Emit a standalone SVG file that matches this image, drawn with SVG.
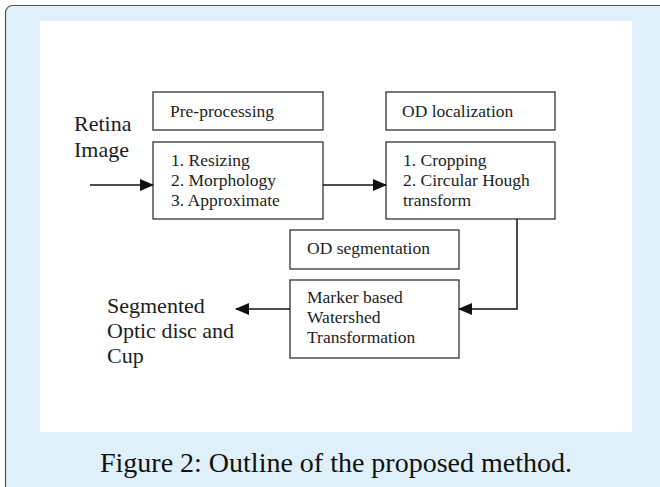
<svg xmlns="http://www.w3.org/2000/svg" width="660" height="487" viewBox="0 0 660 487">
<defs>
<style>
.box{fill:#fff;stroke:#333;stroke-width:1.3}
.t{font-family:"Liberation Serif","Times New Roman",serif;font-size:17.5px;fill:#1e1e1e}
.big{font-family:"Liberation Serif","Times New Roman",serif;font-size:22px;fill:#1e1e1e}
.cap{font-family:"Liberation Serif","Times New Roman",serif;font-size:28px;fill:#111}
.ln{fill:none;stroke:#111;stroke-width:1.5}
</style>
<marker id="ah" markerWidth="14" markerHeight="12" refX="13" refY="6" orient="auto" markerUnits="userSpaceOnUse">
<path d="M0,0 L14,6 L0,12 Z" fill="#111"/>
</marker>
</defs>
<rect x="5.5" y="5.5" width="720" height="520" rx="7" fill="#dff0fa" stroke="#555" stroke-width="1.2"/>
<rect x="40" y="21" width="592" height="411" fill="#fff"/>
<g id="labels-free">
<text class="big" x="74" y="131">Retina</text>
<text class="big" x="74" y="157">Image</text>
<text class="big" x="107" y="313">Segmented</text>
<text class="big" x="107" y="338">Optic disc and</text>
<text class="big" x="107" y="363">Cup</text>
</g>
<g id="preproc-title">
<rect class="box" x="153" y="92" width="170" height="38"/>
<text class="t" x="170" y="117">Pre-processing</text>
</g>
<g id="preproc-steps">
<rect class="box" x="153" y="142" width="170" height="77"/>
<text class="t" x="171" y="166">1. Resizing</text>
<text class="t" x="171" y="186">2. Morphology</text>
<text class="t" x="171" y="206">3. Approximate</text>
</g>
<g id="odloc-title">
<rect class="box" x="386" y="92" width="169" height="38"/>
<text class="t" x="402" y="117">OD localization</text>
</g>
<g id="odloc-steps">
<rect class="box" x="386" y="142" width="169" height="77"/>
<text class="t" x="403" y="166">1. Cropping</text>
<text class="t" x="403" y="186">2. Circular Hough</text>
<text class="t" x="403" y="206">transform</text>
</g>
<g id="odseg-title">
<rect class="box" x="290" y="230" width="169" height="39"/>
<text class="t" x="307" y="254">OD segmentation</text>
</g>
<g id="odseg-steps">
<rect class="box" x="290" y="280" width="169" height="78"/>
<text class="t" x="307" y="303">Marker based</text>
<text class="t" x="307" y="323">Watershed</text>
<text class="t" x="307" y="343">Transformation</text>
</g>
<g id="connectors">
<line class="ln" x1="90" y1="185" x2="153" y2="185" marker-end="url(#ah)"/>
<line class="ln" x1="323" y1="185" x2="386" y2="185" marker-end="url(#ah)"/>
<polyline class="ln" points="517,219 517,309 459,309" marker-end="url(#ah)"/>
<line class="ln" x1="290" y1="309" x2="236" y2="309" marker-end="url(#ah)"/>
</g>
<text class="cap" x="336" y="472" text-anchor="middle">Figure 2: Outline of the proposed method.</text>
</svg>
